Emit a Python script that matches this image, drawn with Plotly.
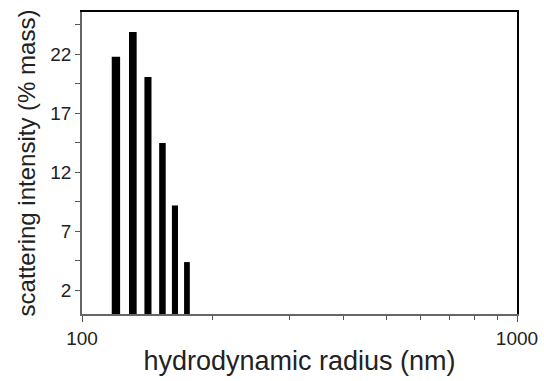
import plotly.graph_objects as go

radius_nm = [119.7, 130.9, 141.8, 153.1, 163.6, 174.3]
intensity = [21.8, 23.9, 20.1, 14.5, 9.2, 4.4]
y_tick_vals = [2, 7, 12, 17, 22]
x_tick_vals = [100, 1000]
x_minor_vals = [200, 300, 400, 500, 600, 700, 800, 900]

fig = go.Figure()
fig.add_trace(go.Bar(x=radius_nm, y=intensity, width=[5.3]*6,
                     marker=dict(color="black", line=dict(width=0)), showlegend=False))

font = "Liberation Sans, Arial, sans-serif"
fig.update_layout(
    width=544, height=381,
    margin=dict(l=82, r=27, t=12, b=67, autoexpand=False),
    plot_bgcolor="white", paper_bgcolor="white",
    font=dict(family=font, color="#222"),
    xaxis=dict(type="log", range=[2, 3], tickvals=x_tick_vals, ticktext=["100", "1000"],
               ticks="outside", ticklen=6, tickcolor="#555", tickwidth=1, automargin=False,
               minor=dict(tickvals=x_minor_vals, ticks="outside", ticklen=4, tickcolor="#555"),
               showline=True, linecolor="#666", linewidth=1.5, showgrid=False, zeroline=False,
               tickfont=dict(size=19, color="#222"),
               title=dict(text="hydrodynamic radius (nm)", font=dict(size=27, color="#222"), standoff=4)),
    yaxis=dict(range=[0, 25.6], tickvals=y_tick_vals, ticks="outside", ticklen=5, tickcolor="#555",
               automargin=False,
               minor=dict(tick0=2, dtick=2.5, ticks="outside", ticklen=5, tickcolor="#555"),
               showline=True, linecolor="#666", linewidth=1.5, showgrid=False, zeroline=False,
               tickfont=dict(size=19, color="#222"),
               title=dict(text="scattering intensity (% mass)", font=dict(size=24, color="#222"), standoff=8)),
    xaxis2=dict(overlaying="x", side="top", showline=True, linecolor="black", linewidth=2,
                showticklabels=False, ticks="", showgrid=False, zeroline=False, range=[0, 1]),
    yaxis2=dict(overlaying="y", side="right", showline=True, linecolor="black", linewidth=2,
                showticklabels=False, ticks="", showgrid=False, zeroline=False, range=[0, 1]),
)
fig.add_trace(go.Scatter(x=[None], y=[None], xaxis="x2", yaxis="y2", showlegend=False, hoverinfo="skip"))
fig.write_html("out.html")
